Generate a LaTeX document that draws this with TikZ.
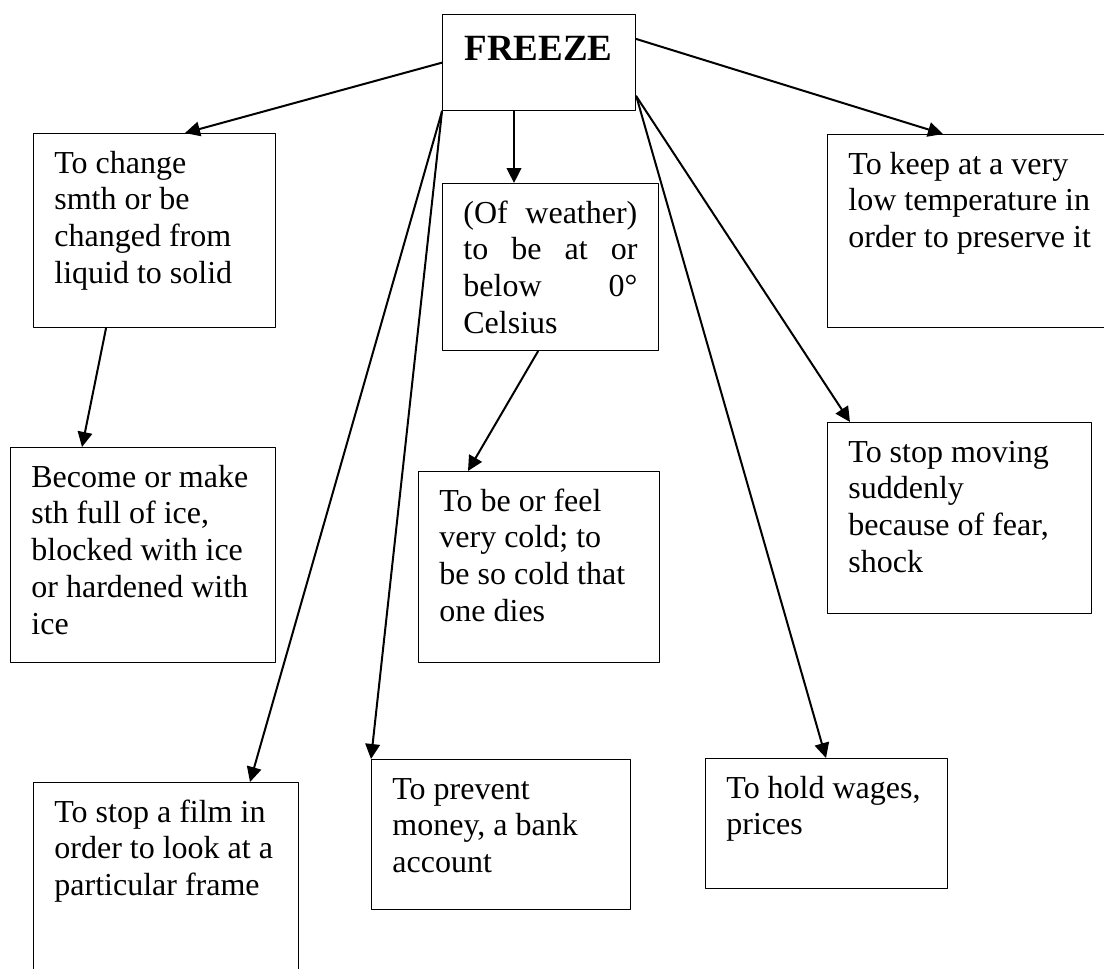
\documentclass[tikz,border=0pt]{standalone}
\usepackage{fontspec}
\setmainfont{Liberation Serif}
\usetikzlibrary{arrows.meta}

\begin{document}
\begin{tikzpicture}[line cap=round,line join=round,>={Triangle[length=7.5pt,width=7.3pt]},x=0.5pt,y=-0.5pt,
  box/.style={draw,line width=0.65pt,inner sep=0pt,anchor=north west},
  txt/.style={inner sep=0pt,anchor=north west,align=left,font=\fontsize{16}{18.4}\selectfont},
  arr/.style={->,line width=1pt}]
\clip (0,0) rectangle (1104,969);

%kehykset
\node[box,minimum width=96.5pt,minimum height=48pt] (fz) at (442,14) {};
\node[box,minimum width=121pt,minimum height=97pt] (b1) at (33,133) {};
\node[box,minimum width=108pt,minimum height=83.5pt] (b2) at (442,183) {};
\node[box,minimum width=141.5pt,minimum height=96.5pt] (b3) at (827,134) {};
\node[box,minimum width=132.5pt,minimum height=107.5pt] (b4) at (10,447) {};
\node[box,minimum width=120.5pt,minimum height=95.5pt] (b5) at (418,471) {};
\node[box,minimum width=132pt,minimum height=95.5pt] (b6) at (827,422) {};
\node[box,minimum width=132.5pt,minimum height=115pt] (b7) at (33,782) {};
\node[box,minimum width=129.5pt,minimum height=75pt] (b8) at (371,759) {};
\node[box,minimum width=121pt,minimum height=65pt] (b9) at (705,758) {};

%tekstit
\node[anchor=base,inner sep=0pt,font=\fontsize{18.5}{22}\selectfont\bfseries] (fzt) at ([shift={(96.5,47)}]fz.north west) {FREEZE};
\node[txt] (t1) at ([shift={(21,14)}]b1.north west) {\strut To change\\ smth or be\\ changed from\\ liquid to solid};
\node[txt] (t2) at ([shift={(21,14)}]b2.north west) {\strut\makebox[87pt][s]{(Of weather)}\\ \makebox[87pt][s]{to be at or}\\ \makebox[87pt][s]{below 0°}\\ Celsius};
\node[txt] (t3) at ([shift={(21,14)}]b3.north west) {\strut To keep at a very\\ low temperature in\\ order to preserve it};
\node[txt] (t4) at ([shift={(21,14)}]b4.north west) {\strut Become or make\\ sth full of ice,\\ blocked with ice\\ or hardened with\\ ice};
\node[txt] (t5) at ([shift={(21,14)}]b5.north west) {\strut To be or feel\\ very cold; to\\ be so cold that\\ one dies};
\node[txt] (t6) at ([shift={(21,14)}]b6.north west) {\strut To stop moving\\ suddenly\\ because of fear,\\ shock};
\node[txt] (t7) at ([shift={(21,14)}]b7.north west) {\strut To stop a film in\\ order to look at a\\ particular frame};
\node[txt] (t8) at ([shift={(21,14)}]b8.north west) {\strut To prevent\\ money, a bank\\ account};
\node[txt] (t9) at ([shift={(21,14)}]b9.north west) {\strut To hold wages,\\ prices};

%nuolet
\draw[arr] (fz.west) -- ([shift={(152,0)}]b1.north west);
\draw[arr] ([shift={(0,25)}]fz.north east) -- ([shift={(116,0)}]b3.north west);
\draw[arr] ([shift={(72,0)}]fz.south west) -- ([shift={(72,0)}]b2.north west);
\draw[arr] (fz.south west) -- ([shift={(217,0)}]b7.north west);
\draw[arr] (fz.south west) -- (b8.north west);
\draw[arr] ([shift={(0,-15)}]fz.south east) -- ([shift={(23,0)}]b6.north west);
\draw[arr] ([shift={(0,-15)}]fz.south east) -- ([shift={(121,0)}]b9.north west);
\draw[arr] ([shift={(73,0)}]b1.south west) -- ([shift={(72,0)}]b4.north west);
\draw[arr] ([shift={(96,0)}]b2.south west) -- ([shift={(50,0)}]b5.north west);
\end{tikzpicture}
\end{document}
